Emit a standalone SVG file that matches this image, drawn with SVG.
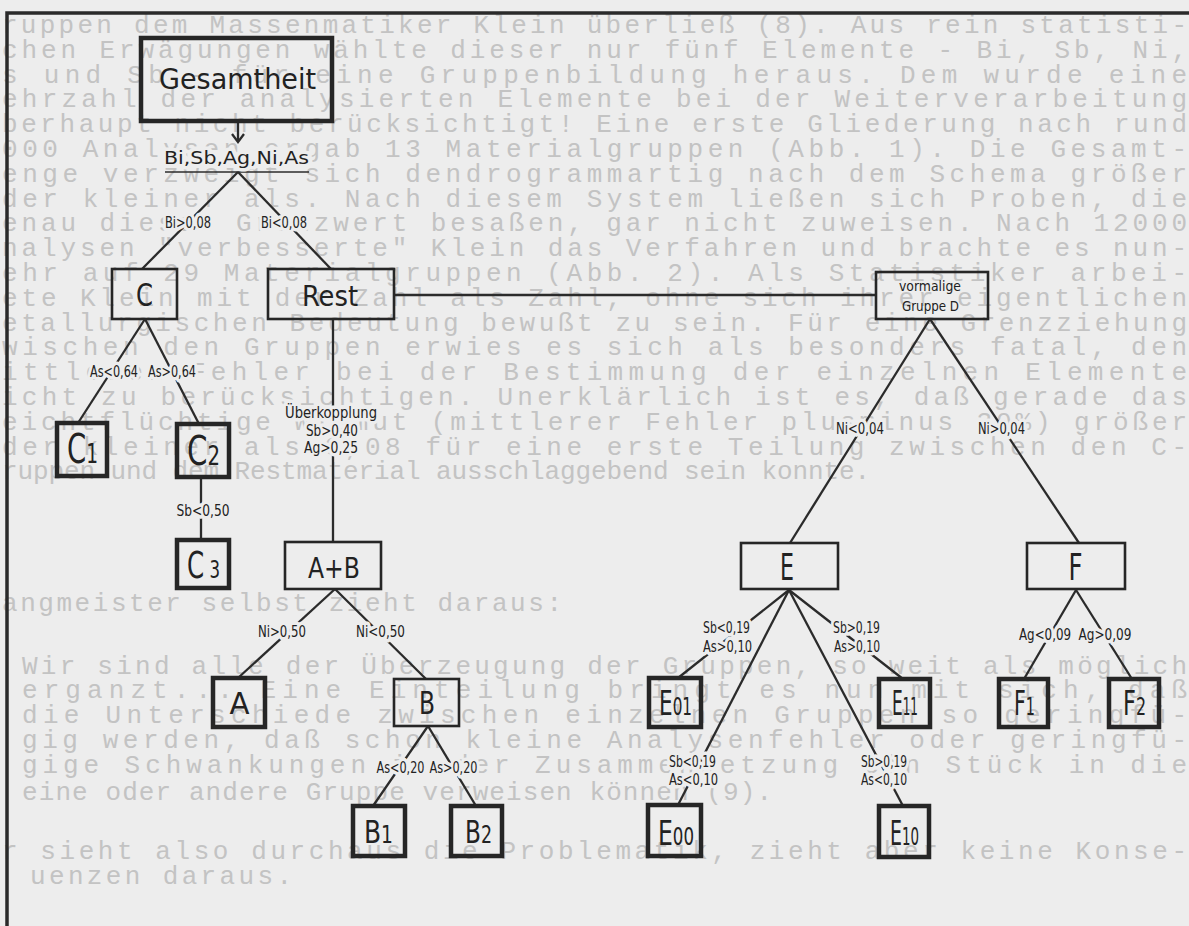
<svg xmlns="http://www.w3.org/2000/svg" width="1189" height="926" viewBox="0 0 1189 926">
<style>
.bg{font-family:"Liberation Mono","DejaVu Sans Mono",monospace;font-size:26px;fill:#c3c3c3}
.box{fill:none;stroke:#262626;stroke-width:2.6}
.leaf{fill:none;stroke:#262626;stroke-width:4.5}
.n{font-family:"DejaVu Sans Condensed","Liberation Sans Narrow","Liberation Sans",sans-serif;fill:#222;text-anchor:middle}
.lbl{font-family:"DejaVu Sans Condensed","Liberation Sans Narrow","Liberation Sans",sans-serif;font-size:15px;fill:#222;text-anchor:middle;stroke:#ededed;stroke-width:7;stroke-linejoin:round;paint-order:stroke}
.ln{stroke:#2b2b2b;stroke-width:2.3;fill:none}
</style>
<rect x="0" y="0" width="1189" height="926" fill="#ededed"/>
<g id="background-text" class="bg">
<text x="2" y="33" textLength="1185" lengthAdjust="spacing">ruppen dem Massenmatiker Klein überließ (8). Aus rein statisti-</text>
<text x="2" y="58" textLength="1185" lengthAdjust="spacing">chen Erwägungen wählte dieser nur fünf Elemente - Bi, Sb, Ni,</text>
<text x="2" y="83" textLength="1185" lengthAdjust="spacing">s und Sb - für eine Gruppenbildung heraus. Dem wurde eine</text>
<text x="2" y="107" textLength="1185" lengthAdjust="spacing">ehrzahl der analysierten Elemente bei der Weiterverarbeitung</text>
<text x="2" y="132" textLength="1185" lengthAdjust="spacing">berhaupt nicht berücksichtigt! Eine erste Gliederung nach rund</text>
<text x="2" y="157" textLength="1185" lengthAdjust="spacing">000 Analysen ergab 13 Materialgruppen (Abb. 1). Die Gesamt-</text>
<text x="2" y="182" textLength="1185" lengthAdjust="spacing">enge verzweigt sich dendrogrammartig nach dem Schema größer</text>
<text x="2" y="207" textLength="1185" lengthAdjust="spacing">der kleiner als. Nach diesem System ließen sich Proben, die</text>
<text x="2" y="231" textLength="1185" lengthAdjust="spacing">enau diesen Grenzwert besaßen, gar nicht zuweisen. Nach 12000</text>
<text x="2" y="256" textLength="1185" lengthAdjust="spacing">nalysen "verbesserte" Klein das Verfahren und brachte es nun-</text>
<text x="2" y="281" textLength="1185" lengthAdjust="spacing">ehr auf 29 Materialgruppen (Abb. 2). Als Statistiker arbei-</text>
<text x="2" y="306" textLength="1185" lengthAdjust="spacing">ete Klein mit der Zahl als Zahl, ohne sich ihrer eigentlichen</text>
<text x="2" y="331" textLength="1185" lengthAdjust="spacing">etallurgischen Bedeutung bewußt zu sein. Für eine Grenzziehung</text>
<text x="2" y="355" textLength="1185" lengthAdjust="spacing">wischen den Gruppen erwies es sich als besonders fatal, den</text>
<text x="2" y="380" textLength="1185" lengthAdjust="spacing">ittleren Fehler bei der Bestimmung der einzelnen Elemente</text>
<text x="2" y="405" textLength="1185" lengthAdjust="spacing">icht zu berücksichtigen. Unerklärlich ist es, daß gerade das</text>
<text x="2" y="430" textLength="1185" lengthAdjust="spacing">eichtflüchtige Wismut (mittlerer Fehler plusminus 30%) größer</text>
<text x="2" y="455" textLength="1185" lengthAdjust="spacing">der kleiner als 0,08 für eine erste Teilung zwischen den C-</text>
<text x="2" y="479" textLength="868" lengthAdjust="spacing">ruppen und dem Restmaterial ausschlaggebend sein konnte.</text>
<text x="2" y="611" textLength="560" lengthAdjust="spacing">angmeister selbst zieht daraus:</text>
<text x="22" y="674" textLength="1165" lengthAdjust="spacing">Wir sind alle der Überzeugung der Gruppen, so weit als möglich</text>
<text x="22" y="698" textLength="1165" lengthAdjust="spacing">erganzt... Eine Einteilung bringt es nun mit sich, daß</text>
<text x="22" y="723" textLength="1165" lengthAdjust="spacing">die Unterschiede zwischen einzelnen Gruppen so geringfü-</text>
<text x="22" y="748" textLength="1165" lengthAdjust="spacing">gig werden, daß schon kleine Analysenfehler oder geringfü-</text>
<text x="22" y="773" textLength="1165" lengthAdjust="spacing">gige Schwankungen in der Zusammensetzung ein Stück in die</text>
<text x="22" y="800" textLength="750" lengthAdjust="spacing">eine oder andere Gruppe verweisen können (9).</text>
<text x="2" y="859" textLength="1185" lengthAdjust="spacing">r sieht also durchaus die Problematik, zieht aber keine Konse-</text>
<text x="30" y="884" textLength="262" lengthAdjust="spacing">uenzen daraus.</text>
</g>
<g id="frame">
<path d="M7,926 V13 H1189" fill="none" stroke="#2a2a2a" stroke-width="3.5"/>
</g>
<g id="connectors" class="ln">
<line x1="238" y1="121" x2="238" y2="141"/>
<polyline points="232,134 238,142 244,134"/>
<line x1="165" y1="172" x2="309" y2="172" stroke-width="1.6"/>
<line x1="238" y1="172" x2="142" y2="269"/>
<line x1="238" y1="172" x2="331" y2="269"/>
<line x1="145" y1="319" x2="78" y2="423"/>
<line x1="145" y1="319" x2="199" y2="424"/>
<line x1="201" y1="477" x2="201" y2="540"/>
<line x1="333" y1="319" x2="333" y2="542"/>
<line x1="394" y1="295" x2="876" y2="295"/>
<line x1="335" y1="589" x2="238" y2="678"/>
<line x1="335" y1="589" x2="426" y2="679"/>
<line x1="428" y1="726" x2="373" y2="806"/>
<line x1="428" y1="726" x2="476" y2="806"/>
<line x1="930" y1="319" x2="790" y2="543"/>
<line x1="930" y1="319" x2="1079" y2="543"/>
<line x1="789" y1="590" x2="678" y2="678"/>
<line x1="789" y1="590" x2="678" y2="805"/>
<line x1="789" y1="590" x2="903" y2="679"/>
<line x1="789" y1="590" x2="903" y2="806"/>
<line x1="1076" y1="590" x2="1024" y2="679"/>
<line x1="1076" y1="590" x2="1132" y2="679"/>
</g>
<g id="edge-labels" class="lbl">
<text x="236.5" y="164" font-size="18" textLength="145" lengthAdjust="spacingAndGlyphs">Bi,Sb,Ag,Ni,As</text>
<text x="188" y="228" textLength="46" lengthAdjust="spacingAndGlyphs">Bi&gt;0,08</text>
<text x="284" y="228" textLength="46" lengthAdjust="spacingAndGlyphs">Bi&lt;0,08</text>
<text x="114" y="377" textLength="48" lengthAdjust="spacingAndGlyphs">As&lt;0,64</text>
<text x="172" y="377" textLength="48" lengthAdjust="spacingAndGlyphs">As&gt;0,64</text>
<text x="203" y="516" textLength="53" lengthAdjust="spacingAndGlyphs">Sb&lt;0,50</text>
<text x="331" y="418" textLength="92" lengthAdjust="spacingAndGlyphs">Überkopplung</text>
<text x="332" y="436" textLength="52" lengthAdjust="spacingAndGlyphs">Sb&gt;0,40</text>
<text x="331" y="453" textLength="54" lengthAdjust="spacingAndGlyphs">Ag&gt;0,25</text>
<text x="282" y="637" textLength="48" lengthAdjust="spacingAndGlyphs">Ni&gt;0,50</text>
<text x="380.5" y="637" textLength="49" lengthAdjust="spacingAndGlyphs">Ni&lt;0,50</text>
<text x="400.5" y="773" textLength="48" lengthAdjust="spacingAndGlyphs">As&lt;0,20</text>
<text x="453.5" y="773" textLength="48" lengthAdjust="spacingAndGlyphs">As&gt;0,20</text>
<text x="860" y="434" textLength="48" lengthAdjust="spacingAndGlyphs">Ni&lt;0,04</text>
<text x="1001.5" y="434" textLength="47" lengthAdjust="spacingAndGlyphs">Ni&gt;0,04</text>
<text x="726.5" y="633" textLength="47" lengthAdjust="spacingAndGlyphs">Sb&lt;0,19</text>
<text x="727.5" y="652" textLength="49" lengthAdjust="spacingAndGlyphs">As&gt;0,10</text>
<text x="856.5" y="633" textLength="47" lengthAdjust="spacingAndGlyphs">Sb&gt;0,19</text>
<text x="857" y="652" textLength="46" lengthAdjust="spacingAndGlyphs">As&gt;0,10</text>
<text x="692.5" y="767" textLength="47" lengthAdjust="spacingAndGlyphs">Sb&lt;0,19</text>
<text x="693.5" y="785" textLength="49" lengthAdjust="spacingAndGlyphs">As&lt;0,10</text>
<text x="884" y="767" textLength="46" lengthAdjust="spacingAndGlyphs">Sb&gt;0,19</text>
<text x="884" y="785" textLength="46" lengthAdjust="spacingAndGlyphs">As&lt;0,10</text>
<text x="1045" y="640" textLength="52" lengthAdjust="spacingAndGlyphs">Ag&lt;0,09</text>
<text x="1105" y="640" textLength="53" lengthAdjust="spacingAndGlyphs">Ag&gt;0,09</text>
</g>
<g id="node-gesamtheit"><rect class="leaf" x="141" y="38" width="191" height="83"/><text class="n" x="237.5" y="89" font-size="29" textLength="157" lengthAdjust="spacingAndGlyphs">Gesamtheit</text></g>
<g id="node-c"><rect class="box" x="112" y="269" width="65" height="50"/><text class="n" x="144.5" y="306" font-size="32" textLength="17" lengthAdjust="spacingAndGlyphs">C</text></g>
<g id="node-rest"><rect class="box" x="268" y="269" width="126" height="50"/><text class="n" x="330" y="306" font-size="29" textLength="56" lengthAdjust="spacingAndGlyphs">Rest</text></g>
<g id="node-d"><rect class="box" x="876" y="272" width="112" height="47"/><text class="n" x="930" y="291" font-size="14" textLength="62" lengthAdjust="spacingAndGlyphs">vormalige</text><text class="n" x="930.5" y="311" font-size="14" textLength="57" lengthAdjust="spacingAndGlyphs">Gruppe D</text></g>
<g id="node-c1"><rect class="leaf" x="57" y="423" width="50" height="53"/><text class="n" x="82.5" y="463" font-size="40" textLength="31" lengthAdjust="spacingAndGlyphs">C<tspan font-size="27">1</tspan></text></g>
<g id="node-c2"><rect class="leaf" x="177" y="424" width="52" height="53"/><text class="n" x="203.5" y="465" font-size="40" textLength="33" lengthAdjust="spacingAndGlyphs">C<tspan font-size="27">2</tspan></text></g>
<g id="node-c3"><rect class="leaf" x="177" y="540" width="52" height="48"/><text class="n" x="203.5" y="578" font-size="37" textLength="33" lengthAdjust="spacingAndGlyphs">C<tspan font-size="25"> 3</tspan></text></g>
<g id="node-ab"><rect class="box" x="285" y="542" width="96" height="47"/><text class="n" x="334" y="578" font-size="29" textLength="52" lengthAdjust="spacingAndGlyphs">A+B</text></g>
<g id="node-e"><rect class="box" x="741" y="543" width="97" height="46"/><text class="n" x="787" y="580" font-size="38" textLength="14" lengthAdjust="spacingAndGlyphs">E</text></g>
<g id="node-f"><rect class="box" x="1027" y="543" width="98" height="46"/><text class="n" x="1075.5" y="580" font-size="38" textLength="14" lengthAdjust="spacingAndGlyphs">F</text></g>
<g id="node-a"><rect class="leaf" x="213" y="678" width="52" height="49"/><text class="n" x="239.5" y="714" font-size="30" textLength="20" lengthAdjust="spacingAndGlyphs">A</text></g>
<g id="node-b"><rect class="box" x="394" y="679" width="65" height="47"/><text class="n" x="427" y="714" font-size="32" textLength="16" lengthAdjust="spacingAndGlyphs">B</text></g>
<g id="node-e01"><rect class="leaf" x="649" y="678" width="52" height="49"/><text class="n" x="675.5" y="715" font-size="34" textLength="33" lengthAdjust="spacingAndGlyphs">E<tspan font-size="24">01</tspan></text></g>
<g id="node-e11"><rect class="leaf" x="879" y="679" width="51" height="48"/><text class="n" x="905" y="715" font-size="34" textLength="26" lengthAdjust="spacingAndGlyphs">E<tspan font-size="24">11</tspan></text></g>
<g id="node-f1"><rect class="leaf" x="999" y="679" width="49" height="48"/><text class="n" x="1024.5" y="715" font-size="34" textLength="21" lengthAdjust="spacingAndGlyphs">F<tspan font-size="24">1</tspan></text></g>
<g id="node-f2"><rect class="leaf" x="1109" y="679" width="50" height="48"/><text class="n" x="1134.5" y="715" font-size="34" textLength="23" lengthAdjust="spacingAndGlyphs">F<tspan font-size="24">2</tspan></text></g>
<g id="node-b1"><rect class="leaf" x="353" y="806" width="52" height="50"/><text class="n" x="378.5" y="843" font-size="32" textLength="29" lengthAdjust="spacingAndGlyphs">B<tspan font-size="24">1</tspan></text></g>
<g id="node-b2"><rect class="leaf" x="451" y="806" width="51" height="50"/><text class="n" x="478.5" y="843" font-size="32" textLength="27" lengthAdjust="spacingAndGlyphs">B<tspan font-size="24">2</tspan></text></g>
<g id="node-e00"><rect class="leaf" x="648" y="805" width="53" height="51"/><text class="n" x="676" y="845" font-size="34" textLength="36" lengthAdjust="spacingAndGlyphs">E<tspan font-size="24">00</tspan></text></g>
<g id="node-e10"><rect class="leaf" x="879" y="806" width="50" height="51"/><text class="n" x="904.5" y="845" font-size="34" textLength="29" lengthAdjust="spacingAndGlyphs">E<tspan font-size="24">10</tspan></text></g>
</svg>
